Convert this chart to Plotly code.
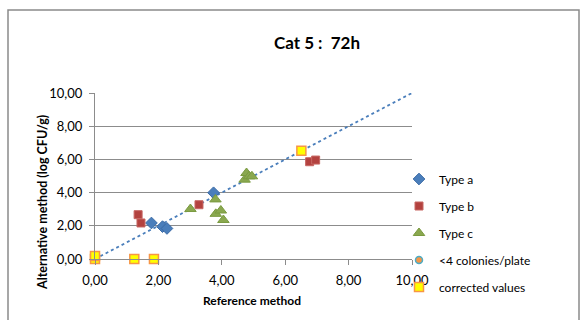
import plotly.graph_objects as go

# Reference method (x) vs alternative method (y), log CFU/g
type_a_x = [1.78, 2.13, 2.27, 3.74]
type_a_y = [2.17, 1.95, 1.84, 3.99]

type_b_x = [1.36, 1.45, 3.28, 6.77, 6.96]
type_b_y = [2.67, 2.17, 3.27, 5.86, 5.96]

type_c_x = [3.01, 3.80, 3.81, 3.97, 4.05, 4.72, 4.78, 4.86, 4.95]
type_c_y = [3.01, 3.59, 2.72, 2.92, 2.35, 4.78, 5.18, 4.98, 4.98]

low_count_x = [None]
low_count_y = [None]

corrected_x = [0.00, 0.00, 1.24, 1.86, 6.51]
corrected_y = [0.00, 0.18, 0.00, 0.00, 6.52]

identity_x = [0, 10]
identity_y = [0, 10]

tick_vals = [0, 2, 4, 6, 8, 10]

FONT = "Lato, 'Open Sans', Arial, sans-serif"
GRID = "#8c8c8c"

fig = go.Figure()

fig.add_trace(go.Scatter(
    x=identity_x, y=identity_y, mode="lines",
    line=dict(color="#4a7ebb", width=1.8, dash="dot"),
    showlegend=False, hoverinfo="skip",
))

fig.add_trace(go.Scatter(
    x=type_a_x, y=type_a_y, mode="markers", name="Type a", legendgroup="a",
    cliponaxis=False,
    marker=dict(symbol="diamond", size=9, color="#4a7ebb",
                line=dict(color="#3a6aa5", width=1)),
))
fig.add_trace(go.Scatter(
    x=type_b_x, y=type_b_y, mode="markers", name="Type b", legendgroup="b",
    cliponaxis=False,
    marker=dict(symbol="square", size=8, color="#b3423f",
                line=dict(color="#c76662", width=1)),
))
fig.add_trace(go.Scatter(
    x=type_c_x, y=type_c_y, mode="markers", name="Type c", legendgroup="c",
    cliponaxis=False,
    marker=dict(symbol="triangle-up", size=10, color="#8aa84f",
                line=dict(color="#7a9a40", width=1)),
))
fig.add_trace(go.Scatter(
    x=low_count_x, y=low_count_y, mode="markers", name="<4 colonies/plate",
    legendgroup="d", cliponaxis=False,
    marker=dict(symbol="circle", size=7, color="#f79646",
                line=dict(color="#4bacc6", width=1.5)),
))
fig.add_trace(go.Scatter(
    x=corrected_x, y=corrected_y, mode="markers", name="corrected values",
    legendgroup="e", cliponaxis=False,
    marker=dict(symbol="square", size=9, color="#ffff00",
                line=dict(color="#f79646", width=1.5)),
))

axis_common = dict(
    range=[0, 10], tickvals=tick_vals, tickformat=".2f",
    showline=True, linecolor=GRID, linewidth=1,
    ticks="outside", ticklen=5, tickcolor=GRID,
    tickfont=dict(family=FONT, size=13, color="#000000"),
    ticklabelstandoff=4,
    zeroline=False, fixedrange=True,
)

fig.update_xaxes(**axis_common, showgrid=False)
fig.update_yaxes(**axis_common, showgrid=True, gridcolor=GRID, gridwidth=1)

# axis titles
fig.add_annotation(text="<b>Reference method</b>", xref="paper", yref="paper",
                   x=(252 - 95) / 317, y=(259 - 300) / 166,
                   xanchor="center", yanchor="middle", showarrow=False,
                   font=dict(family=FONT, size=12, color="#000000"))
fig.add_annotation(text="<b>Alternative method (log CFU/g)</b>",
                   xref="paper", yref="paper", textangle=-90,
                   x=(42 - 95) / 317, y=(259 - 203) / 166,
                   xanchor="center", yanchor="middle", showarrow=False,
                   font=dict(family=FONT, size=12.5, color="#000000"))

# outer chart frame
fig.add_shape(type="rect", xref="paper", yref="paper",
              x0=(8 - 95) / 317, x1=(579 - 95) / 317,
              y0=(259 - 340) / 166, y1=(259 - 10) / 166,
              line=dict(color="#8a8a8a", width=1.5), layer="below")

fig.update_layout(
    width=580, height=320,
    margin=dict(l=95, r=168, t=93, b=61),
    paper_bgcolor="white", plot_bgcolor="white",
    separators=",.",
    font=dict(family=FONT, color="#000000"),
    title=dict(text="<b>Cat 5 :  72h</b>", x=317 / 580, xanchor="center",
               y=1 - 43 / 320, yanchor="middle",
               font=dict(family=FONT, size=17, color="#000000")),
    legend=dict(x=(399 - 95) / 317, xanchor="left",
                y=(259 - 233) / 166, yanchor="middle",
                font=dict(family=FONT, size=12, color="#000000"),
                itemsizing="trace", tracegroupgap=8,
                bgcolor="rgba(0,0,0,0)"),
    showlegend=True,
)

fig.write_html("out.html")
